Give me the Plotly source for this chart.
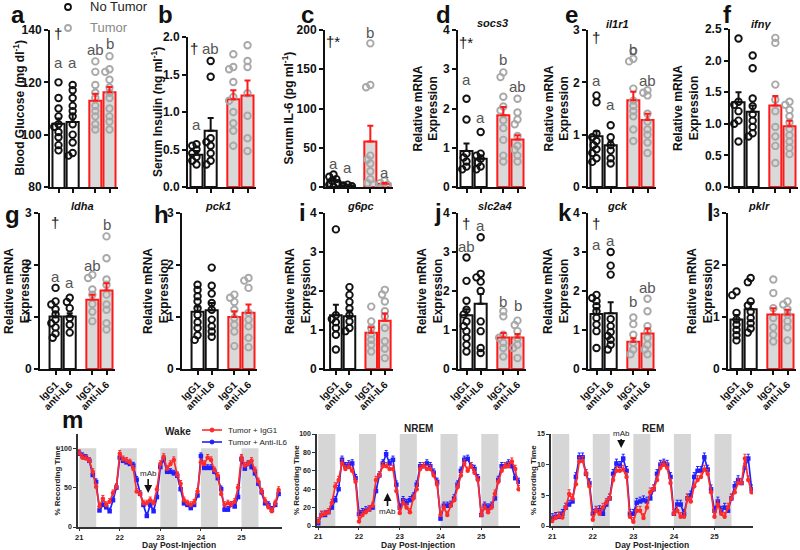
import plotly.graph_objects as go

# ------------------------------------------------------------------ DATA
tick_text = ["IgG1", "anti-IL6", "IgG1", "anti-IL6"]

glucose_points = [[120, 114, 110, 107, 104, 103, 101, 99, 96, 94],
                  [119, 117, 114, 111, 109, 107, 104, 100, 97, 93, 92],
                  [128, 124, 119, 116, 114, 111, 109, 107, 104, 102],
                  [130, 125, 124, 121, 118, 116, 114, 110, 107, 105, 102]]
glucose_mean = [104.2, 104.8, 113.0, 116.2]
glucose_sem = [2.0, 3.0, 2.6, 2.0]

insulin_points = [[0.57, 0.55, 0.50, 0.45, 0.40, 0.35, 0.30],
                  [1.68, 1.47, 0.65, 0.60, 0.55, 0.45, 0.35, 0.30],
                  [1.77, 1.60, 1.57, 1.40, 1.20, 1.15, 1.00, 0.85, 0.75, 0.55],
                  [1.89, 1.68, 1.60, 1.25, 0.95, 0.65, 0.48]]
insulin_mean = [0.43, 0.75, 1.17, 1.22]
insulin_sem = [0.05, 0.17, 0.12, 0.20]

il6_points = [[16, 13, 10, 8, 5, 3, 0.5],
              [3, 2, 1, 0.5],
              [183, 130, 127, 40, 35, 30, 20, 10, 5, 3],
              [8, 5, 3, 1]]
il6_mean = [8, 2, 58, 4]
il6_sem = [3, 0.8, 20, 1]

socs3_points = [[2.25, 1.72, 0.85, 0.75, 0.65, 0.52, 0.45],
                [1.40, 0.85, 0.80, 0.72, 0.62, 0.52, 0.45],
                [2.92, 2.80, 2.30, 2.05, 1.95, 1.70, 1.50, 1.20, 0.80, 0.65],
                [2.25, 1.90, 1.72, 1.60, 1.30, 1.05, 0.95, 0.80, 0.65]]
socs3_mean = [0.92, 0.72, 1.83, 1.21]
socs3_sem = [0.19, 0.08, 0.21, 0.11]

il1r1_points = [[1.75, 1.62, 1.02, 0.95, 0.88, 0.80, 0.72, 0.65, 0.55, 0.48],
                [1.18, 0.95, 0.80, 0.70, 0.55, 0.45],
                [2.60, 2.45, 2.40, 1.88, 1.65, 1.55, 1.45, 1.35, 1.10, 0.88],
                [1.85, 1.80, 1.75, 1.40, 1.25, 1.10, 1.00, 0.85, 0.65]]
il1r1_mean = [0.97, 0.80, 1.66, 1.28]
il1r1_sem = [0.10, 0.07, 0.16, 0.12]

ifng_points = [[2.35, 1.35, 1.30, 1.20, 1.05, 1.00, 0.72],
               [2.08, 1.88, 1.40, 1.28, 1.15, 1.05, 0.95, 0.85, 0.80],
               [2.36, 2.28, 1.62, 1.38, 1.20, 0.95, 0.80, 0.65, 0.38],
               [1.35, 1.30, 1.22, 1.12, 1.02, 0.92, 0.82, 0.72, 0.62, 0.52]]
ifng_mean = [1.34, 1.19, 1.29, 0.96]
ifng_sem = [0.16, 0.10, 0.15, 0.09]

ldha_points = [[1.56, 1.30, 1.24, 1.15, 1.05, 0.95, 0.88, 0.80, 0.68, 0.60],
               [1.37, 1.29, 1.17, 0.98, 0.85, 0.70],
               [1.81, 1.75, 1.53, 1.43, 1.25, 1.10, 0.92],
               [2.55, 2.13, 1.72, 1.62, 1.43, 1.24, 1.14, 0.88, 0.76]]
ldha_mean = [1.01, 1.01, 1.33, 1.51]
ldha_sem = [0.08, 0.06, 0.10, 0.14]

pck1_points = [[1.62, 1.52, 1.40, 1.30, 1.17, 1.04, 0.90, 0.79, 0.65, 0.56],
               [1.95, 1.60, 1.45, 1.27, 1.14, 0.95, 0.82, 0.72, 0.62],
               [1.43, 1.37, 1.29, 1.14, 0.98, 0.85, 0.72, 0.44],
               [1.75, 1.70, 1.56, 1.08, 0.95, 0.82, 0.60, 0.42]]
pck1_mean = [1.10, 1.13, 1.00, 1.08]
pck1_sem = [0.10, 0.14, 0.11, 0.16]

g6pc_points = [[3.58, 1.38, 1.28, 1.20, 1.05, 0.88, 0.50],
               [2.10, 1.90, 1.72, 1.55, 1.38, 1.22, 1.05, 0.97],
               [1.60, 1.22, 1.05, 0.90, 0.75, 0.62, 0.45],
               [2.03, 1.91, 1.73, 1.48, 1.35, 1.05, 0.71, 0.52, 0.28]]
g6pc_mean = [1.38, 1.35, 0.93, 1.24]
g6pc_sem = [0.27, 0.15, 0.14, 0.18]

slc2a4_points = [[2.86, 2.26, 1.75, 1.52, 1.40, 1.22, 1.10, 0.97, 0.80, 0.62, 0.45],
                 [3.38, 2.44, 2.35, 2.24, 2.00, 1.22, 0.97, 0.54, 0.41],
                 [1.48, 1.35, 0.88, 0.80, 0.67, 0.54, 0.32],
                 [1.24, 1.13, 0.97, 0.79, 0.62, 0.54, 0.28]]
slc2a4_mean = [1.38, 1.67, 0.81, 0.81]
slc2a4_sem = [0.15, 0.25, 0.11, 0.09]

gck_points = [[1.90, 1.82, 1.74, 1.61, 1.48, 1.31, 1.14, 0.97, 0.54],
              [3.00, 2.65, 2.42, 1.28, 1.10, 0.95, 0.85, 0.75, 0.62, 0.50],
              [1.32, 1.15, 0.88, 0.67, 0.50, 0.38],
              [1.80, 1.48, 1.10, 0.97, 0.80, 0.62, 0.50, 0.38]]
gck_mean = [1.41, 1.43, 0.70, 0.91]
gck_sem = [0.15, 0.28, 0.09, 0.13]

pklr_points = [[1.49, 1.42, 1.08, 0.95, 0.85, 0.75, 0.65, 0.55],
               [1.75, 1.67, 1.30, 1.22, 1.10, 0.98, 0.88, 0.78, 0.70],
               [1.72, 1.46, 1.17, 0.98, 0.80, 0.66, 0.53],
               [1.30, 1.24, 1.15, 1.05, 0.92, 0.80, 0.55]]
pklr_mean = [0.95, 1.15, 1.05, 1.05]
pklr_sem = [0.09, 0.12, 0.12, 0.09]

# sleep recordings, 2-h bins, days 21-26 post-injection
ts_day = [21 + h / 12 for h in range(60)]
wake_igg1 = [94, 88, 87, 84, 70, 51, 26, 36, 28, 32, 43, 51,
             93, 86, 84, 82, 74, 45, 42, 30, 30, 34, 30, 48,
             80, 89, 74, 80, 85, 66, 55, 34, 30, 28, 31, 45,
             82, 80, 88, 85, 72, 65, 42, 28, 30, 28, 32, 50,
             88, 78, 80, 84, 72, 58, 45, 33, 25, 20, 30, 47]
wake_anti = [93, 90, 88, 84, 66, 57, 21, 28, 25, 20, 34, 50,
             88, 84, 82, 80, 78, 60, 42, 28, 14, 28, 20, 38,
             76, 86, 70, 70, 68, 65, 48, 30, 28, 24, 28, 40,
             90, 75, 75, 75, 70, 62, 48, 22, 22, 28, 26, 38,
             86, 74, 80, 76, 68, 55, 44, 30, 28, 22, 28, 42]
nrem_igg1 = [5, 12, 13, 15, 25, 43, 50, 68, 62, 64, 60, 48,
             5, 12, 15, 18, 22, 50, 55, 65, 65, 62, 62, 38,
             14, 25, 20, 15, 30, 40, 62, 65, 62, 62, 55, 45,
             12, 20, 12, 22, 28, 42, 55, 68, 60, 65, 58, 50,
             12, 20, 15, 20, 35, 48, 60, 65, 65, 70, 62, 40]
nrem_anti = [3, 12, 12, 15, 20, 28, 40, 72, 65, 67, 68, 52,
             13, 15, 17, 18, 20, 38, 55, 68, 78, 68, 72, 45,
             20, 28, 25, 28, 32, 45, 65, 65, 68, 65, 58, 48,
             8, 22, 22, 23, 30, 45, 60, 72, 73, 65, 62, 52,
             12, 22, 20, 22, 30, 50, 65, 65, 68, 65, 52, 48]
rem_igg1 = [0.8, 1.3, 1.6, 1.4, 3.0, 5.2, 4.5, 6.8, 10.5, 10.6, 8.5, 6.5,
            1.0, 2.5, 2.0, 3.0, 3.8, 4.5, 7.5, 9.0, 9.0, 9.2, 8.0, 1.5,
            0.7, 2.5, 2.5, 1.3, 3.0, 5.5, 6.0, 7.5, 9.5, 10.0, 9.5, 7.0,
            2.0, 2.5, 1.5, 1.5, 4.5, 4.0, 6.5, 7.5, 8.0, 9.2, 8.5, 5.5,
            1.5, 3.5, 2.0, 1.5, 3.0, 4.5, 5.5, 7.0, 7.0, 11.0, 7.5, 5.5]
rem_anti = [1.3, 1.5, 1.5, 2.0, 3.0, 3.5, 4.0, 8.0, 11.2, 11.2, 8.5, 7.0,
            2.0, 2.5, 2.6, 2.0, 3.5, 4.5, 8.5, 10.2, 9.8, 11.0, 9.0, 2.0,
            2.0, 3.8, 4.0, 4.2, 4.0, 4.5, 6.0, 8.5, 10.0, 10.2, 10.0, 8.0,
            2.0, 3.5, 3.5, 2.0, 4.5, 5.0, 8.0, 9.0, 9.0, 11.2, 9.2, 6.0,
            2.5, 4.0, 2.5, 3.0, 2.5, 4.5, 6.5, 7.5, 7.0, 9.5, 11.0, 6.0]
light_days = [21, 22, 23, 24, 25]

# ------------------------------------------------------------------ STYLE / LAYOUT
W, H = 800, 550
FONT = "Arial, Liberation Sans, sans-serif"
XPOS = [0, 1, 2.6, 3.6]
BLACK, RED, GRAYFILL, GRAYDOT = "#111111", "#ff1a1a", "#d9d9d9", "#a8a8a8"


def ppx(x):
    return x / W


def ppy(y):
    return 1 - y / H


def dx(x0, x1):
    return [ppx(x0), ppx(x1)]


def dy(top, bot):
    return [ppy(bot), ppy(top)]


def txt(text, x, y, size, color="#111", bold=False, angle=0, xanchor="center", xref="paper", yref="paper"):
    return dict(text=text, x=x, y=y, xref=xref, yref=yref, showarrow=False, textangle=angle,
                xanchor=xanchor, yanchor="middle",
                font=dict(size=size, family=FONT, color=color, weight="bold" if bold else "normal"))


REL = "Relative mRNA<br>Expression"
panels = [
    dict(L="a", pts=glucose_points, m=glucose_mean, s=glucose_sem, yr=[80, 140], tv=[80, 100, 120, 140], fmt="{:.0f}",
         x0=50, w=68, xr=[-0.6, 4.2], top=30, bot=187, title="Blood Glucose (mg dl<sup>-1</sup>)", tx=18, lx=18, ly=15,
         gene=None, lets=["a", "a", "ab", "b"], ley=[127.5, 127.5, 132.4, 134.7], mk="†", mky=138.5),
    dict(L="b", pts=insulin_points, m=insulin_mean, s=insulin_sem, yr=[0, 2.0], tv=[0, 0.5, 1.0, 1.5, 2.0], fmt="{:.1f}",
         x0=188, w=68, xr=[-0.6, 4.2], top=37, bot=187, title="Serum Insulin (ng ml<sup>-1</sup>)", tx=157, lx=165, ly=14,
         gene=None, lets=["a", "ab", "b", "b"], ley=[0.83, 1.85, 2.15, 2.15], mk="†", mky=1.85, mkx=-0.15),
    dict(L="c", pts=il6_points, m=il6_mean, s=il6_sem, yr=[0, 200], tv=[0, 50, 100, 150, 200], fmt="{:.0f}",
         x0=325, w=68, xr=[-0.6, 4.2], top=30, bot=187, title="Serum IL-6 (pg ml<sup>-1</sup>)", tx=287, lx=307, ly=15,
         gene=None, lets=["a", "a", "b", "a"], ley=[30, 25, 197, 19], mk="†*", mky=185),
    dict(L="d", pts=socs3_points, m=socs3_mean, s=socs3_sem, yr=[0, 4], tv=[0, 1, 2, 3, 4], fmt="{:.0f}",
         x0=458, w=68, xr=[-0.6, 4.2], top=30, bot=187, title=REL, tx=425, lx=443, ly=14,
         gene=("socs3", 492, 23), lets=["a", "a", "b", "ab"], ley=[2.73, 1.78, 3.26, 2.55], mk="†*", mky=3.69),
    dict(L="e", pts=il1r1_points, m=il1r1_mean, s=il1r1_sem, yr=[0, 3], tv=[0, 1, 2, 3], fmt="{:.0f}",
         x0=588, w=68, xr=[-0.6, 4.2], top=30, bot=187, title=REL, tx=556, lx=571, ly=15,
         gene=("il1r1", 617, 24), lets=["a", "a", "b", "ab"], ley=[2.04, 1.57, 2.62, 2.04], mk="†", mky=2.85),
    dict(L="f", pts=ifng_points, m=ifng_mean, s=ifng_sem, yr=[0, 2.5], tv=[0, 0.5, 1.0, 1.5, 2.0, 2.5], fmt="{:.1f}",
         x0=730, w=68, xr=[-0.6, 4.2], top=29, bot=187, title=REL, tx=686, lx=727, ly=14,
         gene=("ifnγ", 761, 24), lets=None),
    dict(L="g", pts=ldha_points, m=ldha_mean, s=ldha_sem, yr=[0, 3], tv=[0, 1, 2, 3], fmt="{:.0f}",
         x0=40, w=75, xr=[-1.1, 4.2], top=213, bot=369, title=REL, tx=17, lx=12, ly=215,
         gene=("ldha", 82, 206), lets=["a", "a", "ab", "b"], ley=[1.77, 1.67, 2.0, 2.77], mk="†", mky=2.81),
    dict(L="h", pts=pck1_points, m=pck1_mean, s=pck1_sem, yr=[0, 3], tv=[0, 1, 2, 3], fmt="{:.0f}",
         x0=182, w=75, xr=[-1.1, 4.2], top=213, bot=369, title=REL, tx=156, lx=161, ly=214,
         gene=("pck1", 218, 206), lets=None),
    dict(L="i", pts=g6pc_points, m=g6pc_mean, s=g6pc_sem, yr=[0, 4], tv=[0, 1, 2, 3, 4], fmt="{:.0f}",
         x0=325, w=68, xr=[-0.8, 4.2], top=213, bot=369, title=REL, tx=298, lx=302, ly=213,
         gene=("g6pc", 360, 206), lets=None),
    dict(L="j", pts=slc2a4_points, m=slc2a4_mean, s=slc2a4_sem, yr=[0, 4], tv=[0, 1, 2, 3, 4], fmt="{:.0f}",
         x0=458, w=68, xr=[-0.6, 4.2], top=213, bot=369, title=REL, tx=430, lx=438, ly=213,
         gene=("slc2a4", 495, 206), lets=["ab", "a", "b", "b"], ley=[3.13, 3.69, 1.72, 1.64], mk="†", mky=3.74),
    dict(L="k", pts=gck_points, m=gck_mean, s=gck_sem, yr=[0, 4], tv=[0, 1, 2, 3, 4], fmt="{:.0f}",
         x0=588, w=68, xr=[-0.6, 4.2], top=213, bot=369, title=REL, tx=556, lx=565, ly=213,
         gene=("gck", 617, 206), lets=["a", "a", "b", "ab"], ley=[3.2, 3.3, 1.72, 2.08], mk="†", mky=3.74),
    dict(L="l", pts=pklr_points, m=pklr_mean, s=pklr_sem, yr=[0, 3], tv=[0, 1, 2, 3], fmt="{:.0f}",
         x0=728, w=68, xr=[-0.6, 4.2], top=213, bot=369, title=REL, tx=700, lx=710, ly=213,
         gene=("pklr", 759, 206), lets=None),
]


def swarm(vals, ux, uy, diam=4.8):
    """Horizontal offsets (data units) so circles do not overlap much."""
    order = sorted(range(len(vals)), key=lambda i: -vals[i])
    cands = [0, -0.2, 0.2, -0.1, 0.1, -0.3, 0.3]
    placed, offs = [], [0.0] * len(vals)
    for i in order:
        best, bestcost = 0, 1e9
        for c in cands:
            cost = 0
            for (ox, oy) in placed:
                d2 = ((c - ox) / ux) ** 2 + ((vals[i] - oy) / uy) ** 2
                if d2 < diam ** 2:
                    cost += diam ** 2 - d2
            if cost == 0:
                best = c
                break
            if cost < bestcost:
                best, bestcost = c, cost
        offs[i] = best
        placed.append((best, vals[i]))
    return offs


fig = go.Figure()
layout = dict(width=W, height=H, autosize=False, margin=dict(l=0, r=0, t=0, b=0, pad=0, autoexpand=False),
              paper_bgcolor="white", plot_bgcolor="rgba(0,0,0,0)", showlegend=False,
              font=dict(family=FONT, color="#111"))
annotations, shapes = [], []

for n, p in enumerate(panels, start=1):
    xa, ya = ("x", "y") if n == 1 else (f"x{n}", f"y{n}")
    xk, yk = ("xaxis", "yaxis") if n == 1 else (f"xaxis{n}", f"yaxis{n}")
    row2 = p["top"] > 150
    ux = (p["xr"][1] - p["xr"][0]) / p["w"]          # data units per px
    uy = (p["yr"][1] - p["yr"][0]) / (p["bot"] - p["top"])
    fig.add_trace(go.Bar(x=XPOS, y=p["m"], width=0.85, xaxis=xa, yaxis=ya,
                         marker=dict(color=["white", "white", GRAYFILL, GRAYFILL],
                                     line=dict(color=[BLACK, BLACK, RED, RED], width=2))))
    for g in range(4):
        vals = p["pts"][g]
        offs = swarm(vals, ux, uy)
        fig.add_trace(go.Scatter(x=[XPOS[g] + o for o in offs], y=vals, mode="markers", xaxis=xa, yaxis=ya,
                                 marker=dict(symbol="circle-open", size=6.5,
                                             color=BLACK if g < 2 else GRAYDOT, line=dict(width=1.9))))
    for gs, col in ((slice(0, 2), BLACK), (slice(2, 4), RED)):
        fig.add_trace(go.Scatter(x=XPOS[gs], y=p["m"][gs], mode="markers", xaxis=xa, yaxis=ya,
                                 marker=dict(size=1, color="rgba(0,0,0,0)"),
                                 error_y=dict(type="data", array=p["s"][gs], arrayminus=[0, 0], symmetric=False,
                                              color=col, thickness=2, width=3)))
    layout[xk] = dict(domain=dx(p["x0"], p["x0"] + p["w"]), range=p["xr"], anchor=ya, showgrid=False,
                      zeroline=False, showline=True, linewidth=2, linecolor=BLACK, ticks="outside", ticklen=4,
                      tickwidth=1.5, tickcolor=BLACK, tickvals=XPOS, ticktext=tick_text, automargin=False,
                      showticklabels=row2, tickangle=-45,
                      tickfont=dict(size=10, family=FONT, weight="bold", color=BLACK))
    layout[yk] = dict(domain=dy(p["top"], p["bot"]), range=p["yr"], anchor=xa, showgrid=False, zeroline=False,
                      showline=True, linewidth=2, linecolor=BLACK, ticks="outside", ticklen=4, tickwidth=1.5,
                      tickcolor=BLACK, tickvals=p["tv"], ticktext=[p["fmt"].format(v) for v in p["tv"]],
                      automargin=False, tickfont=dict(size=12, family=FONT, weight="bold", color=BLACK))
    annotations.append(txt(p["L"], ppx(p["lx"]), ppy(p["ly"]), 24, BLACK, bold=True))
    annotations.append(txt(p["title"], ppx(p["tx"]), ppy((p["top"] + p["bot"]) / 2), 12, BLACK, bold=True,
                           angle=-90))
    if p["gene"]:
        gname, gx, gy = p["gene"]
        annotations.append(txt(f"<i>{gname}</i>", ppx(gx), ppy(gy), 11, BLACK, bold=True))
    if p["lets"]:
        for g in range(4):
            annotations.append(txt(p["lets"][g], XPOS[g], p["ley"][g], 15, "#555", xref=xa, yref=ya))
        annotations.append(txt(p["mk"], p.get("mkx", -0.05), p["mky"], 15, BLACK, xref=xa, yref=ya))

# ---------------- time series (panel m)
ts_panels = [
    dict(name="Wake", a=wake_igg1, b=wake_anti, x0=78, x1=282, top=434, bot=527, yr=[0, 118], tv=[0, 50, 100],
         shade=100, err=4, tx=57, title_x=178, title_y=431, xt=179, mab=dict(y=43, ay=-20)),
    dict(name="NREM", a=nrem_igg1, b=nrem_anti, x0=317, x1=520, top=434, bot=526, yr=[0, 100],
         tv=[0, 20, 40, 60, 80, 100], shade=100, err=4, tx=296, title_x=418, title_y=428, xt=418,
         mab=dict(y=36, ay=19)),
    dict(name="REM", a=rem_igg1, b=rem_anti, x0=551, x1=753, top=434, bot=526, yr=[0, 15], tv=[0, 5, 10, 15],
         shade=15, err=0.7, tx=533, title_x=653, title_y=428, xt=652, mab=dict(y=12.7, ay=-15)),
]
for k, tp in enumerate(ts_panels):
    n = 13 + k
    xa, ya = f"x{n}", f"y{n}"
    dayspan = 4.98 if k else 5.03
    xr = [20.97, 20.97 + dayspan]
    for d in light_days:
        shapes.append(dict(type="rect", xref=xa, yref=ya, x0=d, x1=d + 0.42, y0=0, y1=tp["shade"],
                           fillcolor="#d6d6d6", line=dict(width=0), layer="below"))
    for ser, col, sym in ((tp["b"], "#1f1fff", "square"), (tp["a"], "#ff2a2a", "circle")):
        fig.add_trace(go.Scatter(x=ts_day, y=ser, mode="lines+markers", xaxis=xa, yaxis=ya,
                                 line=dict(color=col, width=1.7), marker=dict(symbol=sym, size=4.5, color=col),
                                 error_y=dict(type="constant", value=tp["err"], valueminus=0, symmetric=False,
                                              color=col, thickness=1, width=1.5)))
    layout[f"xaxis{n}"] = dict(domain=dx(tp["x0"], tp["x1"]), range=xr, anchor=ya, showgrid=False, zeroline=False,
                               showline=True, linewidth=1.5, linecolor="#333", ticks="outside", ticklen=2,
                               tickwidth=1, tickcolor="#333", tickvals=light_days, automargin=False,
                               tickfont=dict(size=7.5, family=FONT, weight="bold", color="#222"))
    layout[f"yaxis{n}"] = dict(domain=dy(tp["top"], tp["bot"]), range=tp["yr"], anchor=xa, showgrid=False,
                               zeroline=False, showline=True, linewidth=1.5, linecolor="#333", ticks="outside",
                               ticklen=3, tickwidth=1, tickcolor="#333", tickvals=tp["tv"], automargin=False,
                               tickfont=dict(size=7, family=FONT, weight="bold", color="#222"))
    annotations.append(txt(tp["name"], ppx(tp["title_x"]), ppy(tp["title_y"]), 10, "#222", bold=True))
    annotations.append(txt("% Recording Time", ppx(tp["tx"]), ppy((tp["top"] + tp["bot"]) / 2), 8, "#222",
                           bold=True, angle=-90))
    annotations.append(txt("Day Post-Injection", ppx(tp["xt"]), ppy(544.5), 8.5, "#222", bold=True))
    annotations.append(dict(text="mAb", x=22.7, y=tp["mab"]["y"], xref=xa, yref=ya, ax=0, ay=tp["mab"]["ay"],
                            showarrow=True, arrowhead=2, arrowsize=1, arrowwidth=1.6, arrowcolor="#111",
                            font=dict(size=8, family=FONT, color="#222")))

annotations.append(txt("m", ppx(72), ppy(419), 24, BLACK, bold=True))

# manual legend: top (bar groups)
for (yy, col, label, tcol) in ((7, BLACK, "No Tumor", "#222"), (28, GRAYDOT, "Tumor", "#888")):
    shapes.append(dict(type="circle", xref="paper", yref="paper", x0=ppx(65), x1=ppx(71), y0=ppy(yy + 3),
                       y1=ppy(yy - 3), line=dict(color=col, width=1.8), fillcolor="white"))
    annotations.append(txt(label, ppx(88), ppy(yy), 13, tcol, xanchor="left"))
# manual legend: time series
for (yy, col, label) in ((430, "#ff2a2a", "Tumor + IgG1"), (442, "#1f1fff", "Tumor + Anti-IL6")):
    shapes.append(dict(type="line", xref="paper", yref="paper", x0=ppx(202), x1=ppx(222), y0=ppy(yy),
                       y1=ppy(yy), line=dict(color=col, width=1.6)))
    shapes.append(dict(type="circle", xref="paper", yref="paper", x0=ppx(210), x1=ppx(214), y0=ppy(yy + 2),
                       y1=ppy(yy - 2), line=dict(color=col, width=1), fillcolor=col))
    annotations.append(txt(label, ppx(226), ppy(yy), 8, "#222", xanchor="left"))

layout["annotations"] = annotations
layout["shapes"] = shapes
fig.update_layout(**layout)
fig.write_html("out.html", config={"displayModeBar": False},
               post_script="document.body.style.margin='0px';document.body.style.overflow='hidden';")
